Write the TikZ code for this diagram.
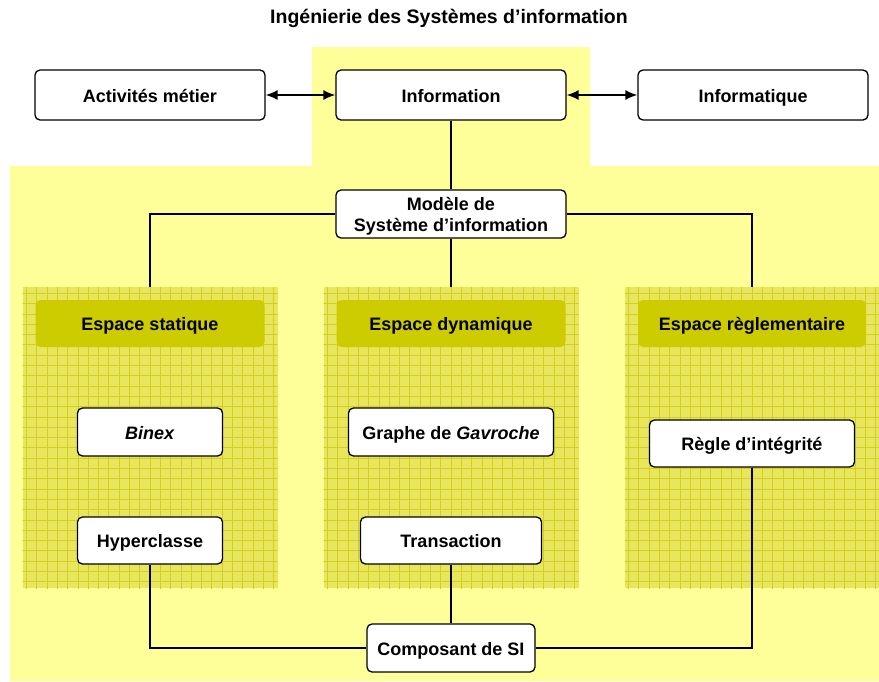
\documentclass[tikz,border=0pt]{standalone}
\usepackage{fontspec}
\setmainfont{Liberation Sans}
\usetikzlibrary{arrows.meta}
\definecolor{bgyellow}{HTML}{FFFF99}
\definecolor{panelfill}{HTML}{E8E65E}
\definecolor{gridcol}{HTML}{D2D01A}
\definecolor{headfill}{HTML}{CCCC00}
\tikzset{
  box/.style={draw, line width=1.3pt, rounded corners=5pt, fill=white,
    font=\fontsize{18}{21}\selectfont\bfseries, align=center, inner sep=0pt,
    text height=16pt, text depth=2pt},
  head/.style={fill=headfill, rounded corners=5pt, minimum width=229pt, minimum height=47pt,
    font=\fontsize{18}{21}\selectfont\bfseries, inner sep=0pt, text height=16pt, text depth=2pt},
  panel/.style={fill=panelfill, minimum width=255pt, minimum height=301pt, inner sep=0pt,
    path picture={\draw[gridcol, line width=0.8pt]
      ([xshift=-2pt,yshift=-2pt]path picture bounding box.south west) grid[step=10.3pt]
      ([xshift=2pt,yshift=2pt]path picture bounding box.north east);}},
  link/.style={line width=1.3pt},
  dbl/.style={line width=1.5pt, {Latex[length=12pt,width=10pt]}-{Latex[length=12pt,width=10pt]}}
}
\begin{document}
\begin{tikzpicture}[x=1pt,y=-1pt]
\useasboundingbox (0,0) rectangle (879,681);
% background
\fill[bgyellow] (312,47) -- (590,47) -- (590,166) -- (879,166) -- (879,681) -- (10,681) -- (10,166) -- (312,166) -- cycle;
% title
\node[font=\fontsize{19.5}{22}\selectfont\bfseries] (title) at (449,18) {Ingénierie des Systèmes d’information};
% panels
\node[panel] (pstat) at (150,437.5) {};
\node[panel] (pdyn) at (451,437.5) {};
\node[panel, minimum width=254pt] (pregl) at (752,437.5) {};
% headers
\node[head] (hstat) at (150,323.5) {Espace statique};
\node[head] (hdyn) at (451,323.5) {Espace dynamique};
\node[head, minimum width=228pt] (hregl) at (752,323.5) {Espace règlementaire};
% top boxes
\node[box, minimum width=230pt, minimum height=50pt] (act) at (150,95) {Activités métier};
\node[box, minimum width=230pt, minimum height=50pt] (info) at (451,95) {Information};
\node[box, minimum width=230pt, minimum height=50pt] (infq) at (753,95) {Informatique};
\node[box, text height=, text depth=, minimum width=230pt, minimum height=48pt] (modele) at (451,214)
  {\begin{tabular}{@{}c@{}}\rule{0pt}{20.7pt}Modèle de\\Système d’information\end{tabular}};
% inner boxes
\node[box, minimum width=145pt, minimum height=48pt] (binex) at (150,432) {\textit{Binex}};
\node[box, minimum width=145pt, minimum height=47pt] (hyper) at (150,540.5) {Hyperclasse};
\node[box, minimum width=205pt, minimum height=48pt] (graphe) at (451,432) {Graphe de \textit{Gavroche}};
\node[box, minimum width=181pt, minimum height=47pt] (trans) at (451,540.5) {Transaction};
\node[box, minimum width=205pt, minimum height=47pt] (regle) at (752,443.5) {Règle d’intégrité};
\node[box, minimum width=168pt, minimum height=48pt] (comp) at (451,648) {Composant de SI};
% connectors
\draw[dbl] (act.east) -- (info.west);
\draw[dbl] (info.east) -- (infq.west);
\draw[link] (info.south) -- (modele.north);
\draw[link] (modele.west) -| (pstat.north);
\draw[link] (modele.south) -- (pdyn.north);
\draw[link] (modele.east) -| (pregl.north);
\draw[link] (hyper.south) |- (comp.west);
\draw[link] (trans.south) -- (comp.north);
\draw[link] (regle.south) |- (comp.east);
\end{tikzpicture}
\end{document}
